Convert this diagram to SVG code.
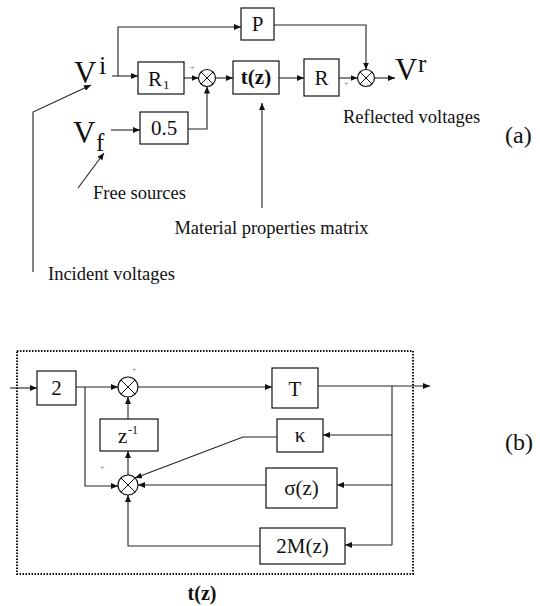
<svg xmlns="http://www.w3.org/2000/svg" width="540" height="606" viewBox="0 0 540 606">
<defs>
<marker id="ah" markerUnits="userSpaceOnUse" markerWidth="8" markerHeight="6" refX="7" refY="3" orient="auto">
<path d="M0,0 L7,3 L0,6 z" fill="#111"/>
</marker>
</defs>
<style>
.box{fill:#fff;stroke:#111;stroke-width:1.2}
.sum{fill:#fff;stroke:#111;stroke-width:1.2}
.x{stroke:#111;stroke-width:1}
.c{fill:none;stroke:#222;stroke-width:1.1;marker-end:url(#ah)}
.l{fill:none;stroke:#222;stroke-width:1.1}
text{font-family:"Liberation Serif","Times New Roman",serif;fill:#111}
.lab{font-size:18.5px}
.bt{font-size:21px;text-anchor:middle}
.big{font-size:31px}
.pl{font-size:8px;fill:#777}
.bold{font-weight:bold}
</style>
<rect width="540" height="606" fill="#fff"/>

<g id="connectors">
<path class="c" d="M112,76 H138"/>
<path class="c" d="M118,76 V27 H241"/>
<path class="c" d="M184,78 H198.5"/>
<path class="c" d="M215.5,78 H233"/>
<path class="c" d="M111,130 H140"/>
<path class="c" d="M188,129 H207 V86.5"/>
<path class="c" d="M279,78 H304"/>
<path class="c" d="M339,78 H357.5"/>
<path class="c" d="M274,25 H366 V69.5"/>
<path class="c" d="M374.5,78 H395"/>
<path class="c" d="M78,188 L104,153"/>
<path class="c" d="M33,272 V112 L91,85"/>
<path class="c" d="M262,208 V103"/>

<path class="c" d="M10,388 H37"/>
<path class="c" d="M76,387 H118"/>
<path class="c" d="M85,387 V486 H118"/>
<path class="c" d="M138,387 H272"/>
<path class="c" d="M318,386 H430"/>
<path class="l" d="M392,386 V545"/>
<path class="c" d="M392,435 H323"/>
<path class="c" d="M277,437 H243 L135,478"/>
<path class="c" d="M128,419 V397"/>
<path class="c" d="M128,475 V451"/>
<path class="c" d="M392,485 H337"/>
<path class="c" d="M266,485 H138"/>
<path class="c" d="M392,545 H345"/>
<path class="c" d="M260,546 H128 V495"/>
</g>

<g id="Vi"><text class="big" x="74" y="83">V</text><text x="99" y="74" font-size="26">i</text></g>
<g id="Vf"><text class="big" x="73" y="143">V</text><text x="96" y="151" font-size="25">f</text></g>
<g id="Vr"><text class="big" x="395" y="80">V</text><text x="418" y="72" font-size="25">r</text></g>

<g id="P"><rect class="box" x="241" y="8" width="33" height="32"/><text class="bt" x="257.5" y="31">P</text></g>
<g id="R1"><rect class="box" x="138" y="62" width="46" height="32"/><text x="148" y="86" font-size="21">R</text><text x="163" y="89" font-size="13">1</text><text class="pl" x="170" y="68" font-size="6">'</text></g>
<g id="sum1"><circle class="sum" cx="207" cy="78" r="8.5"/><path class="x" d="M201,72 L213,84 M213,72 L201,84"/><text class="pl" x="190" y="70">+</text></g>
<g id="half"><rect class="box" x="140" y="112" width="48" height="32"/><text class="bt" x="164" y="135">0.5</text></g>
<g id="tz"><rect class="box" x="233" y="61" width="46" height="33"/><text class="bt bold" x="256" y="84" font-size="20">t(z)</text></g>
<g id="R"><rect class="box" x="304" y="59" width="35" height="37"/><text class="bt" x="321.5" y="85">R</text></g>
<g id="sum2"><circle class="sum" cx="366" cy="78" r="8.5"/><path class="x" d="M360,72 L372,84 M372,72 L360,84"/><text class="pl" x="344" y="86">+</text></g>

<g id="labels-a">
<text class="lab" x="343" y="123">Reflected voltages</text>
<text class="lab" x="93" y="199">Free sources</text>
<text class="lab" x="271.5" y="234" text-anchor="middle">Material properties matrix</text>
<text class="lab" x="48" y="280">Incident voltages</text>
<text x="505" y="143" font-size="24">(a)</text>
</g>

<g id="frame"><rect x="17" y="351" width="396" height="223" fill="none" stroke="#111" stroke-width="2" stroke-dasharray="1.5 1.5"/></g>
<g id="two"><rect class="box" x="37" y="371" width="39" height="34"/><text class="bt" x="56.5" y="395">2</text></g>
<g id="sumA"><circle class="sum" cx="128" cy="387" r="10"/><path class="x" d="M121,380 L135,394 M135,380 L121,394"/><text class="pl" x="132" y="372">+</text></g>
<g id="T"><rect class="box" x="272" y="368" width="46" height="40"/><text class="bt" x="295" y="396">T</text></g>
<g id="kappa"><rect class="box" x="277" y="419" width="46" height="33"/><text class="bt" x="300" y="442">κ</text></g>
<g id="zinv"><rect class="box" x="100" y="419" width="58" height="32"/><text x="118" y="443" font-size="21">z</text><text x="128" y="434" font-size="12">-1</text></g>
<g id="sumB"><circle class="sum" cx="128" cy="485" r="10"/><path class="x" d="M121,478 L135,492 M135,478 L121,492"/><text class="pl" x="100" y="470">+</text></g>
<g id="sigma"><rect class="box" x="266" y="468" width="71" height="40"/><text class="bt" x="301.5" y="495">σ(z)</text></g>
<g id="M2"><rect class="box" x="260" y="528" width="85" height="36"/><text class="bt" x="302.5" y="553">2M(z)</text></g>
<g id="labels-b">
<text class="bold" x="202" y="600" font-size="20" text-anchor="middle">t(z)</text>
<text x="505" y="450" font-size="24">(b)</text>
</g>
</svg>
